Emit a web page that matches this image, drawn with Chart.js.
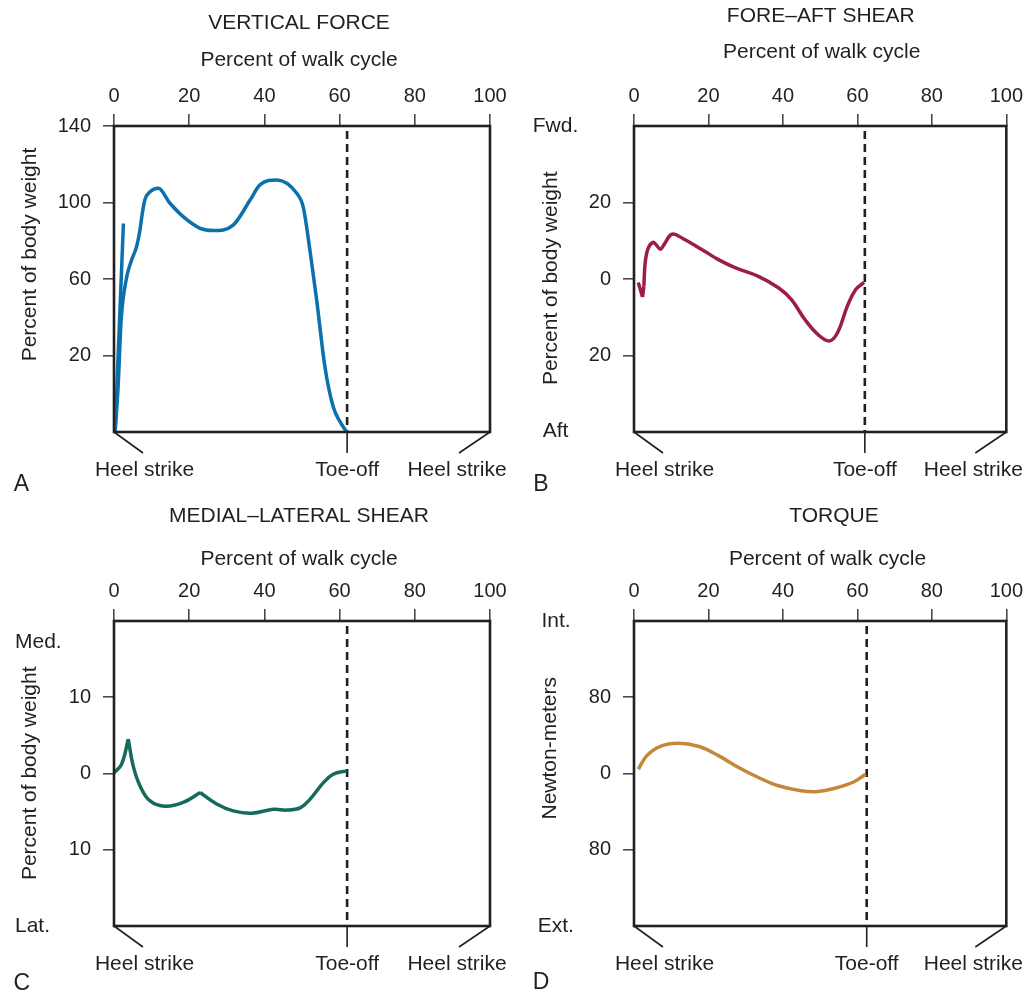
<!DOCTYPE html>
<html>
<head>
<meta charset="utf-8">
<title>Gait forces</title>
<script src="https://cdn.jsdelivr.net/npm/chart.js@4.4.1/dist/chart.umd.min.js"></script>
<style>
  html, body { margin: 0; padding: 0; background: #fff; overflow: hidden; }
  #wrap { position: relative; width: 1029px; height: 995px; }
  canvas { position: absolute; }
</style>
</head>
<body>
<div id="wrap">
  <canvas id="chart-a" width="520" height="500" style="left:0;top:0"></canvas>
  <canvas id="chart-b" width="509" height="500" style="left:520px;top:0"></canvas>
  <canvas id="chart-c" width="520" height="500" style="left:0;top:495px"></canvas>
  <canvas id="chart-d" width="509" height="500" style="left:520px;top:495px"></canvas>
</div>
<script>
// === DATA ===
const walkTicks = [0, 20, 40, 60, 80, 100];

// A - vertical force (percent of body weight)
const vfPct = [0.3, 1.1, 1.9, 3.4, 4.7, 6.0, 6.9, 7.4, 8.2, 9.6, 11.8, 14.9, 18.4, 22.9, 26.4, 31.7, 36.2, 38.8, 43.3, 48.6, 50.3, 52.1, 53.9, 56.1, 58.3, 60.1, 61.9];
const vfVal = [-20, 4, 38.6, 61.2, 70, 76.9, 85.6, 92.6, 101.3, 105.6, 107.4, 99.6, 92.6, 86.5, 85.3, 88.2, 101.3, 109.2, 111.8, 104.8, 97.8, 75.2, 49, 14, -6.8, -14.6, -20];
const vfSpikePct = [0.3, 2.5];
const vfSpikeVal = [-20, 89];
const vfTicks = [20, 60, 100, 140];

// B - fore-aft shear (percent of body weight, + = forward)
const fasPct = [1.15, 2.3, 2.65, 3.0, 3.8, 5.1, 6.0, 7.1, 8.2, 10.2, 13.1, 18.4, 22.8, 27.3, 33.4, 38.8, 42.3, 45.9, 49.4, 52.5, 54.7, 57.3, 59.5, 61.8];
const fasVal = [-0.9, -4.7, -1.9, 4.2, 8.0, 9.6, 8.9, 7.8, 9.2, 11.7, 10.6, 7.6, 5.0, 2.9, 0.7, -2.3, -5.4, -10.6, -14.5, -16.2, -14.0, -7.1, -2.8, -0.9];
const fasBreaks = [2.3, 2.65];
const fasTicks = [20, 0, -20];

// C - medial-lateral shear (percent of body weight, + = medial)
const mlsPct = [0, 2.0, 3.8, 5.1, 6.9, 9.6, 13.6, 18.4, 22.9, 27.3, 31.7, 36.6, 42.4, 45.9, 49.5, 52.1, 55.7, 58.3, 61.9];
const mlsVal = [0.1, 1.2, 4.5, 1.0, -1.6, -3.6, -4.3, -3.8, -2.5, -4.0, -4.9, -5.2, -4.7, -4.8, -4.5, -3.4, -1.2, -0.1, 0.35];
const mlsBreaks = [3.8, 22.9];
const mlsTicks = [10, 0, -10];

// D - torque (newton-meters, + = internal)
const torPct = [1.15, 3.4, 6.9, 11.8, 17.5, 22.8, 28.1, 33.4, 38.8, 44.9, 49.4, 54.7, 59.1, 62.2];
const torVal = [4.5, 18.5, 28.3, 31.8, 28.3, 18.5, 6.3, -4.2, -12.9, -18.1, -18.9, -14.7, -8.7, -0.7];
const torTicks = [80, 0, -80];

// === HELPERS ===
const INK = '#231f20';
const TICK_INK = '#4a4748';
const FONT = '"Liberation Sans", Arial, Helvetica, sans-serif';

const toPoints = (xs, ys) => xs.map((x, i) => ({ x: x, y: ys[i] }));

// cut a curve at its sharp corners so each piece gets smoothed on its own
const splitAt = (points, breaks) => {
    const pieces = [];
    let cur = [];
    points.forEach(p => {
        cur.push(p);
        if (breaks.includes(p.x) && cur.length > 1) {
            pieces.push(cur);
            cur = [p];
        }
    });
    if (cur.length > 1) pieces.push(cur);
    return pieces;
};

// frame, toe-off line, heel strike marks and all the loose labels
const panelDecor = {
    id: 'panelDecor',
    beforeDatasetsDraw(chart, args, opts) {
        const { ctx, chartArea: a, scales: { x } } = chart;
        const tx = x.getPixelForValue(opts.toeOff);
        ctx.save();
        ctx.strokeStyle = INK;
        ctx.lineWidth = 2.6;
        ctx.setLineDash([8, 5]);
        ctx.beginPath();
        ctx.moveTo(tx, a.top + 5);
        ctx.lineTo(tx, a.bottom);
        ctx.stroke();
        ctx.restore();
    },
    afterDraw(chart, args, opts) {
        const { ctx, chartArea: a, scales: { x } } = chart;
        const tx = x.getPixelForValue(opts.toeOff);
        ctx.save();
        ctx.strokeStyle = INK;
        ctx.lineWidth = 2.6;
        ctx.strokeRect(a.left, a.top, a.right - a.left, a.bottom - a.top);

        ctx.lineWidth = 1.6;
        ctx.beginPath();
        ctx.moveTo(a.left, a.bottom); ctx.lineTo(a.left + 29, a.bottom + 21);
        ctx.moveTo(a.right, a.bottom); ctx.lineTo(a.right - 31, a.bottom + 21);
        ctx.moveTo(tx, a.bottom); ctx.lineTo(tx, a.bottom + 21);
        ctx.stroke();

        ctx.fillStyle = INK;
        ctx.textBaseline = 'middle';
        const below = a.bottom + 38;
        const labels = [
            { t: 'Heel strike', x: a.left + 30.5, y: below },
            { t: 'Toe-off', x: tx, y: below },
            { t: 'Heel strike', x: a.right - 33, y: below },
            ...opts.texts
        ];
        labels.forEach(l => {
            ctx.save();
            ctx.font = `${l.size || 21}px ${FONT}`;
            ctx.textAlign = l.align || 'center';
            ctx.translate(l.x, l.y);
            if (l.rot) ctx.rotate(l.rot);
            ctx.fillText(l.t, 0, 0);
            ctx.restore();
        });
        ctx.restore();
    }
};

const drawPanel = (id, p) => {
    const datasets = p.curves.map(pts => ({
        data: pts,
        showLine: true,
        borderColor: p.color,
        borderWidth: 3.5,
        borderJoinStyle: 'round',
        pointRadius: 0,
        cubicInterpolationMode: p.monotone ? 'monotone' : 'default',
        tension: p.monotone ? 0 : 0.4,
        clip: false
    }));

    return new Chart(document.getElementById(id), {
        type: 'scatter',
        data: { datasets: datasets },
        options: {
            responsive: false,
            animation: false,
            devicePixelRatio: 1,
            events: [],
            layout: { padding: { left: 0, top: 0, right: p.padRight, bottom: p.padBottom } },
            plugins: {
                legend: { display: false },
                tooltip: { enabled: false },
                panelDecor: { toeOff: p.toeOff, texts: p.texts }
            },
            scales: {
                x: {
                    type: 'linear',
                    position: 'top',
                    min: 0,
                    max: 100,
                    afterBuildTicks: s => { s.ticks = walkTicks.map(v => ({ value: v })); },
                    afterFit: s => { s.height = 126; },
                    ticks: { color: INK, font: { family: FONT, size: 20 }, padding: 6, autoSkip: false, maxRotation: 0 },
                    grid: { drawOnChartArea: false, tickLength: 12, color: TICK_INK, lineWidth: 1.6 },
                    border: { display: false }
                },
                y: {
                    type: 'linear',
                    position: 'left',
                    min: p.yMin,
                    max: p.yMax,
                    afterBuildTicks: s => { s.ticks = p.yTicks.map(v => ({ value: v })); },
                    afterFit: s => { s.width = 114; },
                    ticks: {
                        color: INK,
                        font: { family: FONT, size: 20 },
                        padding: 12,
                        autoSkip: false,
                        callback: v => String(Math.abs(v))
                    },
                    grid: { drawOnChartArea: false, tickLength: 11, color: TICK_INK, lineWidth: 1.6 },
                    border: { display: false }
                }
            }
        },
        plugins: [panelDecor]
    });
};

const ROT = -Math.PI / 2;

drawPanel('chart-a', {
    color: '#0a71ad',
    monotone: true,
    curves: [toPoints(vfPct, vfVal), toPoints(vfSpikePct, vfSpikeVal)],
    yMin: -20, yMax: 140, yTicks: vfTicks,
    toeOff: 62, padRight: 30, padBottom: 68,
    texts: [
        { t: 'VERTICAL FORCE', x: 299, y: 23.7 },
        { t: 'Percent of walk cycle', x: 299, y: 60.3 },
        { t: 'Percent of body weight', x: 30, y: 254.5, rot: ROT },
        { t: 'A', x: 21.5, y: 485, size: 23 }
    ]
});

drawPanel('chart-b', {
    color: '#9c1c4b',
    curves: splitAt(toPoints(fasPct, fasVal), fasBreaks),
    yMin: -40, yMax: 40, yTicks: fasTicks,
    toeOff: 62, padRight: 18, padBottom: 68,
    texts: [
        { t: 'FORE\u2013AFT SHEAR', x: 300.8, y: 15.8 },
        { t: 'Percent of walk cycle', x: 301.7, y: 52.2 },
        { t: 'Percent of body weight', x: 30.8, y: 278.3, rot: ROT },
        { t: 'Fwd.', x: 35.5, y: 126.7 },
        { t: 'Aft', x: 35.5, y: 430.8 },
        { t: 'B', x: 21, y: 485, size: 23 }
    ]
});

drawPanel('chart-c', {
    color: '#156a5c',
    curves: splitAt(toPoints(mlsPct, mlsVal), mlsBreaks),
    yMin: -20, yMax: 20, yTicks: mlsTicks,
    toeOff: 62, padRight: 30, padBottom: 69,
    texts: [
        { t: 'MEDIAL\u2013LATERAL SHEAR', x: 299, y: 20.8 },
        { t: 'Percent of walk cycle', x: 299, y: 64.5 },
        { t: 'Percent of body weight', x: 30, y: 278.3, rot: ROT },
        { t: 'Med.', x: 15, y: 147.5, align: 'left' },
        { t: 'Lat.', x: 15, y: 430.8, align: 'left' },
        { t: 'C', x: 21.7, y: 488.3, size: 23 }
    ]
});

drawPanel('chart-d', {
    color: '#c4883a',
    curves: [toPoints(torPct, torVal)],
    yMin: -160, yMax: 160, yTicks: torTicks,
    toeOff: 62.5, padRight: 18, padBottom: 69,
    texts: [
        { t: 'TORQUE', x: 314, y: 20.8 },
        { t: 'Percent of walk cycle', x: 307.5, y: 64.5 },
        { t: 'Newton-meters', x: 30, y: 253.3, rot: ROT },
        { t: 'Int.', x: 36, y: 125.8 },
        { t: 'Ext.', x: 35.8, y: 430.8 },
        { t: 'D', x: 21, y: 487.5, size: 23 }
    ]
});
</script>
</body>
</html>
